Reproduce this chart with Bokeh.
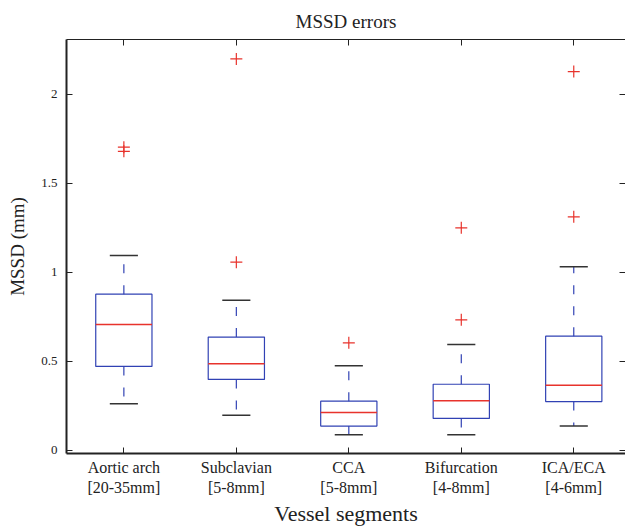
from bokeh.plotting import figure
from bokeh.models import LinearAxis, FixedTicker, Range1d
from bokeh.embed import file_html
from bokeh.resources import INLINE

# ---- data ----
categories = ["Aortic arch\n[20-35mm]", "Subclavian\n[5-8mm]", "CCA\n[5-8mm]",
              "Bifurcation\n[4-8mm]", "ICA/ECA\n[4-6mm]"]
positions = [1, 2, 3, 4, 5]
lower_whisker = [0.262, 0.198, 0.088, 0.088, 0.137]
q1 = [0.472, 0.399, 0.137, 0.180, 0.275]
median = [0.708, 0.487, 0.213, 0.279, 0.367]
q3 = [0.878, 0.637, 0.277, 0.372, 0.642]
upper_whisker = [1.096, 0.844, 0.476, 0.596, 1.032]
outliers = [[1.704, 1.681], [1.058, 2.200], [0.605], [0.734, 1.251], [2.129, 1.313]]
y_ticks = [0, 0.5, 1, 1.5, 2]
y_tick_labels = ["0", "0.5", "1", "1.5", "2"]

BOX_W = 0.25   # half width of box
CAP_W = 0.125  # half width of caps
BLUE = "#3142b4"
RED = "#e8332c"
CAP = "#333333"
FONT = "Liberation Serif"

p = figure(width=625, height=528, output_backend="svg", toolbar_location=None,
           x_range=Range1d(0.49, 5.46), y_range=Range1d(-0.017, 2.309),
           min_border_left=66, min_border_right=0, min_border_top=39,
           min_border_bottom=75, x_axis_location=None, y_axis_location=None)
p.outline_line_color = None
p.xgrid.visible = False
p.ygrid.visible = False
p.background_fill_color = "white"
p.border_fill_color = "white"

p.title.text = "MSSD errors"
p.title.align = "center"
p.title.text_font = FONT
p.title.text_font_size = "19px"
p.title.text_font_style = "normal"
p.title.text_color = "#222222"
p.title.standoff = 15

xt = FixedTicker(ticks=positions)
yt = FixedTicker(ticks=y_ticks)

def style(ax, width):
    ax.major_tick_in = 6
    ax.major_tick_out = 0
    ax.minor_tick_line_color = None
    ax.axis_line_width = width
    ax.axis_line_color = "#222222"
    ax.major_tick_line_color = "#222222"

def hide_labels(ax):
    ax.major_label_text_color = None
    ax.major_label_text_font_size = "1px"
    ax.major_label_standoff = 0

xb = LinearAxis(ticker=xt, axis_label="Vessel segments")
xb.major_label_overrides = {pos: lab for pos, lab in zip(positions, categories)}
xb.major_label_text_font = FONT
xb.major_label_text_font_size = "16px"
xb.major_label_text_line_height = 1.2
xb.major_label_text_color = "#222222"
xb.major_label_standoff = 5
xb.axis_label_text_font = FONT
xb.axis_label_text_font_size = "22px"
xb.axis_label_text_font_style = "normal"
xb.axis_label_text_color = "#222222"
xb.axis_label_standoff = 2
style(xb, 2)
p.add_layout(xb, "below")

xtop = LinearAxis(ticker=xt)
hide_labels(xtop)
style(xtop, 1)
p.add_layout(xtop, "above")

yl = LinearAxis(ticker=yt, axis_label="MSSD (mm)")
yl.major_label_overrides = {t: s for t, s in zip(y_ticks, y_tick_labels)}
yl.major_label_text_font = FONT
yl.major_label_text_font_size = "13px"
yl.major_label_text_color = "#222222"
yl.major_label_standoff = 9
yl.axis_label_text_font = FONT
yl.axis_label_text_font_size = "19px"
yl.axis_label_text_font_style = "normal"
yl.axis_label_text_color = "#222222"
yl.axis_label_standoff = 10
style(yl, 2)
p.add_layout(yl, "left")

yr = LinearAxis(ticker=yt)
hide_labels(yr)
style(yr, 1)
yr.axis_line_color = None
p.add_layout(yr, "right")

# boxes
left = [x - BOX_W for x in positions]
right = [x + BOX_W for x in positions]
p.quad(left=left, right=right, bottom=q1, top=q3, fill_color=None,
       line_color=BLUE, line_width=1.2)
# medians
p.segment(x0=left, x1=right, y0=median, y1=median, line_color=RED, line_width=1.5)
# whiskers
p.segment(x0=positions, x1=positions, y0=q3, y1=upper_whisker, line_color=BLUE,
          line_width=1.2, line_dash="9 12")
p.segment(x0=positions, x1=positions, y0=q1, y1=lower_whisker, line_color=BLUE,
          line_width=1.2, line_dash="9 12")
# caps
cl = [x - CAP_W for x in positions]
cr = [x + CAP_W for x in positions]
p.segment(x0=cl, x1=cr, y0=upper_whisker, y1=upper_whisker, line_color=CAP, line_width=1.5)
p.segment(x0=cl, x1=cr, y0=lower_whisker, y1=lower_whisker, line_color=CAP, line_width=1.5)
# outliers
ox = [pos for pos, outs in zip(positions, outliers) for _ in outs]
oy = [v for outs in outliers for v in outs]
p.scatter(ox, oy, marker="cross", size=12, line_color=RED, line_width=1.2)

open("out.html", "w").write(file_html(p, INLINE))
